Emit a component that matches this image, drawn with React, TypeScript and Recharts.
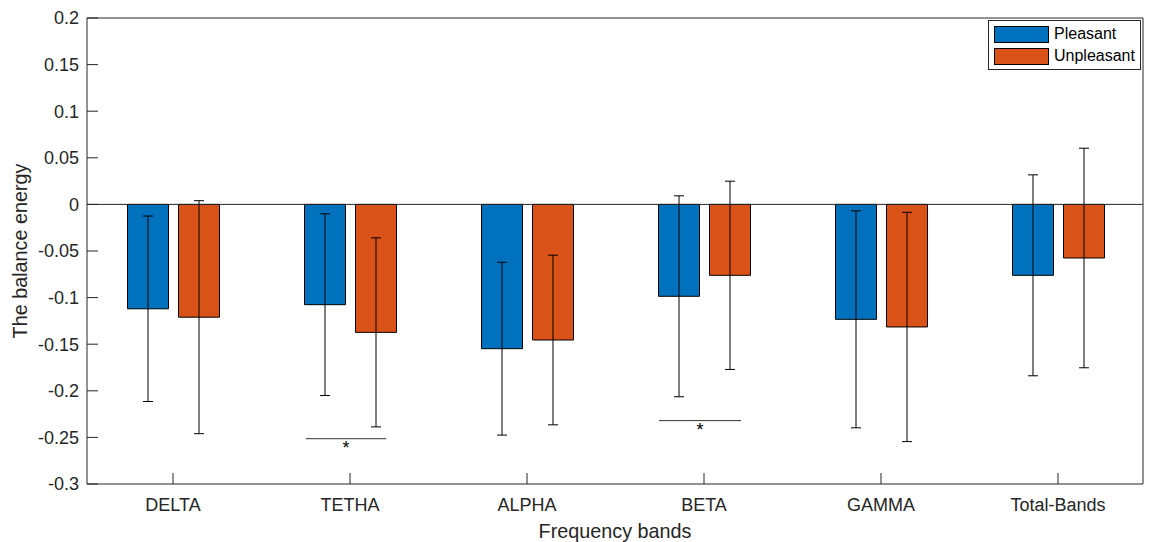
import {
  BarChart,
  Bar,
  XAxis,
  YAxis,
  ErrorBar,
  ReferenceLine,
  Legend,
} from 'recharts';

const bands = ['DELTA', 'TETHA', 'ALPHA', 'BETA', 'GAMMA', 'Total-Bands'];
const pleasant = [-0.112, -0.1076, -0.1548, -0.0986, -0.1233, -0.0761];
const pleasantErr = [0.0995, 0.0975, 0.0927, 0.1078, 0.1164, 0.1078];
const unpleasant = [-0.121, -0.1373, -0.1455, -0.0761, -0.1315, -0.0575];
const unpleasantErr = [0.125, 0.1014, 0.091, 0.101, 0.123, 0.1178];
const yTicks = [-0.3, -0.25, -0.2, -0.15, -0.1, -0.05, 0, 0.05, 0.1, 0.15, 0.2];
// significance brackets, in category-index units (1 = DELTA)
const sigMarks = [
  { from: 1.75, to: 2.205, y: -0.2514 },
  { from: 3.746, to: 4.209, y: -0.232 },
];

const series = [
  { key: 'pleasant', name: 'Pleasant', color: '#0072BD' },
  { key: 'unpleasant', name: 'Unpleasant', color: '#D95319' },
];

const data = bands.map((band, i) => ({
  band,
  idx: i + 1,
  pleasant: pleasant[i],
  pleasantErr: pleasantErr[i],
  unpleasant: unpleasant[i],
  unpleasantErr: unpleasantErr[i],
}));

const FONT = '"Liberation Sans", Arial, Helvetica, sans-serif';
const AXIS = '#262626';
// matlab's xlim sits a hair outside the box
const X_PAD = { left: -2.5, right: -3.5 };

function MatlabLegend() {
  return (
    <div
      style={{
        width: 151,
        height: 48,
        border: '1px solid #262626',
        background: '#fff',
        position: 'relative',
        fontFamily: FONT,
        fontSize: 16,
        color: '#000',
      }}
    >
      {series.map((s, i) => (
        <div
          key={s.key}
          style={{ position: 'absolute', left: 5, top: 5 + i * 22, height: 16, display: 'flex', alignItems: 'center' }}
        >
          <span
            style={{
              display: 'inline-block',
              width: 53,
              height: 15,
              background: s.color,
              border: '1px solid #000',
              marginRight: 5,
            }}
          />
          <span>{s.name}</span>
        </div>
      ))}
    </div>
  );
}

export default function App() {
  return (
    <div style={{ position: 'absolute', left: 0, top: 0, width: 1152, height: 542, background: '#fff' }}>
      <BarChart
        width={1152}
        height={542}
        data={data}
        margin={{ top: 16, right: 7, bottom: 28, left: 7 }}
        barSize={41}
        barGap={10}
        style={{ fontFamily: FONT }}
      >
        <XAxis
          dataKey="band"
          height={30}
          padding={X_PAD}
          stroke={AXIS}
          tickSize={-11}
          tickMargin={25}
          tick={{ fontSize: 18, fill: AXIS }}
          interval={0}
          label={{ value: 'Frequency bands', position: 'bottom', offset: 10, fontSize: 19.8, fill: AXIS }}
        />
        <XAxis
          xAxisId="top"
          dataKey="band"
          orientation="top"
          height={2}
          padding={X_PAD}
          stroke={AXIS}
          tickSize={-11}
          tick={false}
          interval={0}
        />
        <XAxis xAxisId="num" dataKey="idx" type="number" domain={[0.5, 6.5]} padding={X_PAD} allowDataOverflow hide />
        <YAxis
          width={80}
          domain={[-0.3, 0.2]}
          ticks={yTicks}
          stroke={AXIS}
          tickSize={-11}
          tickMargin={19}
          tick={{ fontSize: 18, fill: AXIS }}
          tickFormatter={(v: number) => String(Math.round(v * 100) / 100)}
          allowDataOverflow
          label={{
            value: 'The balance energy',
            angle: -90,
            position: 'insideLeft',
            offset: 13,
            fontSize: 19.8,
            fill: AXIS,
            style: { textAnchor: 'middle' },
          }}
        />
        <YAxis yAxisId="right" orientation="right" width={2} domain={[-0.3, 0.2]} ticks={yTicks} stroke={AXIS} tickSize={-11} tick={false} />
        <Legend
          verticalAlign="middle"
          layout="horizontal"
          content={() => <MatlabLegend />}
          wrapperStyle={{ top: 20, left: 988, width: 153, height: 50 }}
        />
        {series.map((s) => (
          <Bar key={s.key} dataKey={s.key} name={s.name} fill={s.color} stroke="#000" strokeWidth={1} isAnimationActive={false}>
            <ErrorBar dataKey={`${s.key}Err`} width={5} stroke="#000" strokeWidth={1} direction="y" />
          </Bar>
        ))}
        <ReferenceLine y={0} stroke={AXIS} strokeWidth={1} />
        {sigMarks.map((m, i) => (
          <ReferenceLine
            key={i}
            xAxisId="num"
            segment={[
              { x: m.from, y: m.y },
              { x: m.to, y: m.y },
            ]}
            stroke="#333"
            strokeWidth={1}
            label={{ value: '*', position: 'bottom', offset: 3, fontSize: 18, fill: '#000' }}
          />
        ))}
      </BarChart>
    </div>
  );
}
